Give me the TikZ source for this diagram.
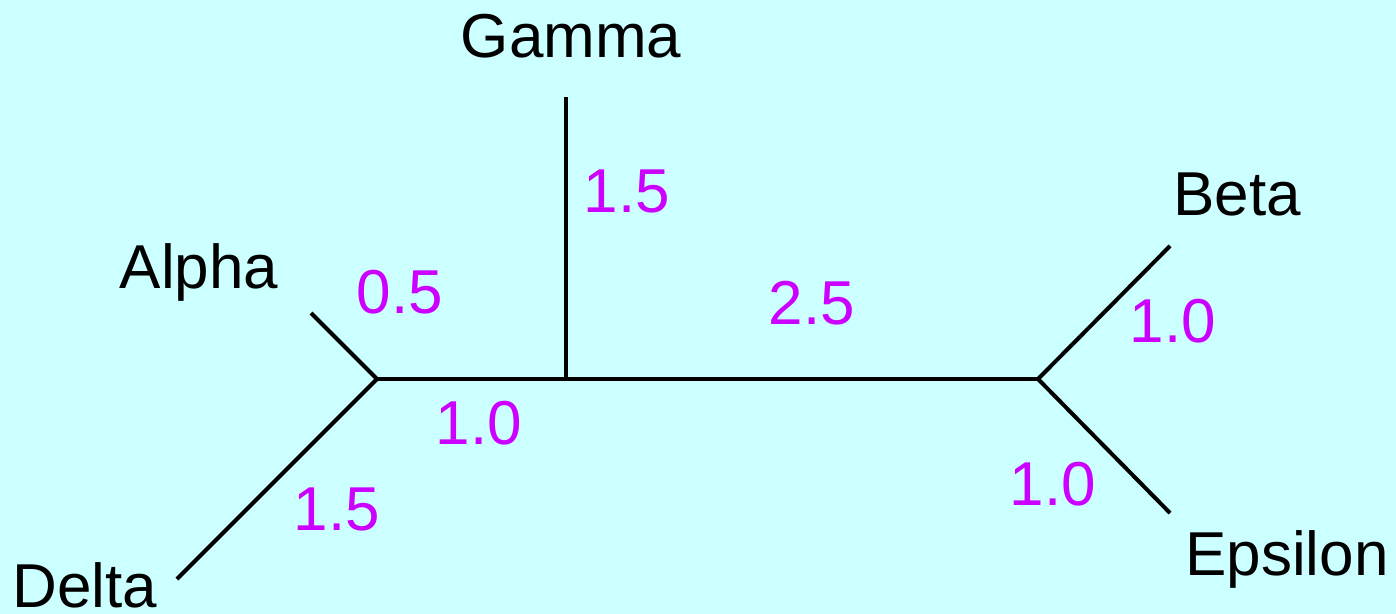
\documentclass[tikz,border=0pt]{standalone}
\usepackage{fontspec}
\setmainfont{Liberation Sans}
\definecolor{bgc}{HTML}{CCFFFF}
\definecolor{lenc}{HTML}{CC00FF}
\begin{document}
\begin{tikzpicture}[x=0.5pt,y=-0.5pt,
  branch/.style={line width=2pt,line cap=butt},
  taxon/.style={anchor=base,inner sep=0pt,font=\fontsize{31}{35}\selectfont},
  blen/.style={anchor=base,inner sep=0pt,text=lenc,font=\fontsize{31}{35}\selectfont}]
\fill[bgc] (0,0) rectangle (1396,614);
\useasboundingbox (0,0) rectangle (1396,614);
\coordinate (nA) at (377,379);
\coordinate (nG) at (566,379);
\coordinate (nR) at (1038,379);
\coordinate (lAlpha) at (311,313);
\coordinate (lDelta) at (177,579);
\coordinate (lGamma) at (566,97);
\coordinate (lBeta) at (1170,246);
\coordinate (lEps) at (1170,513);
\draw[branch] (lAlpha) -- (nA) -- (lDelta);
\draw[branch] (nA) -- (nG) -- (nR);
\draw[branch] (nG) -- (lGamma);
\draw[branch] (lBeta) -- (nR) -- (lEps);
\node[taxon] (tGamma) at (571,58) {Gamma};
\node[taxon] (tAlpha) at (199,289) {Alpha};
\node[taxon] (tDelta) at (85,607) {Delta};
\node[taxon] (tBeta) at (1237,216) {Beta};
\node[taxon] (tEps) at (1287,575) {Epsilon};
\node[blen] (bGamma) at (627,213) {1.5};
\node[blen] (bAlpha) at (400,314) {0.5};
\node[blen] (bMid) at (812,325) {2.5};
\node[blen] (bBeta) at (1173,343) {1.0};
\node[blen] (bInner) at (479,444) {1.0};
\node[blen] (bDelta) at (337,530) {1.5};
\node[blen] (bEps) at (1053,505) {1.0};
\end{tikzpicture}
\end{document}
